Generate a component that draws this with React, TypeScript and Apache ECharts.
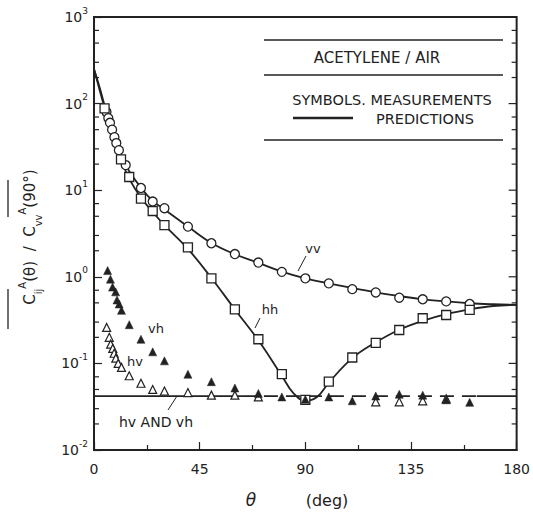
import React, { useEffect, useRef } from "react";
import * as echarts from "echarts";

// ---- axis ticks ----
const xTickValues = [0, 45, 90, 135, 180];
const yDecades = [0.01, 0.1, 1, 10, 100, 1000];
const minorMultipliers = [2, 3, 5, 7];

// ---- vv (circles) ----
const vvTheta = [5.3, 6.1, 6.8, 7.7, 8.7, 9.5, 10.6, 13.5, 20, 25, 30, 40, 50, 60, 70, 80, 90, 100, 110, 120, 130, 140, 150, 160];
const vvMeas = [80, 68, 60, 50, 41, 35, 29, 19.5, 10.6, 7.4, 6.2, 3.8, 2.44, 1.83, 1.46, 1.14, 0.96, 0.84, 0.72, 0.66, 0.574, 0.55, 0.52, 0.485];
const vvPredTheta = [0, 2.5, 5, 7.5, 10, 12.5, 15, 20, 25, 30, 40, 50, 60, 70, 80, 90, 100, 110, 120, 130, 140, 150, 160, 170, 180];
const vvPred = [250, 150, 85, 52, 31.6, 22, 16.6, 10.7, 7.5, 6.0, 3.8, 2.45, 1.82, 1.45, 1.15, 0.96, 0.84, 0.74, 0.66, 0.6, 0.55, 0.52, 0.495, 0.482, 0.475];

// ---- hh (squares) ----
const hhTheta = [4.5, 11.5, 15, 20, 25, 30, 40, 50, 60, 70, 80, 90, 100, 110, 120, 130, 140, 150, 160];
const hhMeas = [88, 22.7, 14.2, 8.0, 5.75, 3.96, 2.19, 0.96, 0.42, 0.19, 0.075, 0.038, 0.0615, 0.117, 0.173, 0.243, 0.332, 0.362, 0.414];
const hhPredTheta = [0, 2.5, 5, 7.5, 10, 12.5, 15, 20, 25, 30, 40, 50, 60, 70, 80, 85, 90, 95, 100, 110, 120, 130, 140, 150, 160, 170, 180];
const hhPred = [250, 140, 80, 48, 30, 19.5, 13.5, 8.2, 5.6, 3.95, 2.1, 0.97, 0.42, 0.185, 0.072, 0.045, 0.037, 0.041, 0.06, 0.115, 0.175, 0.245, 0.31, 0.37, 0.42, 0.46, 0.475];

// ---- vh (filled triangles) ----
const vhTheta = [5.8, 7, 7.9, 9.2, 9.8, 10.7, 11.7, 15, 20, 25, 30, 40, 50, 60, 70, 80, 90, 100, 110, 120, 130, 140, 150, 160];
const vhMeas = [1.18, 0.94, 0.76, 0.67, 0.54, 0.485, 0.41, 0.28, 0.19, 0.136, 0.107, 0.075, 0.0615, 0.052, 0.045, 0.041, 0.0385, 0.041, 0.037, 0.042, 0.044, 0.043, 0.038, 0.0355];

// ---- hv (open triangles) ----
const hvTheta = [5.4, 6.5, 7.1, 8, 8.6, 9.3, 10.3, 11.7, 15, 20, 25, 30, 40, 50, 60, 70, 120, 130, 140, 150];
const hvMeas = [0.26, 0.2, 0.167, 0.149, 0.131, 0.115, 0.1, 0.09, 0.072, 0.059, 0.05, 0.048, 0.046, 0.043, 0.043, 0.041, 0.036, 0.036, 0.037, 0.039];

// ---- hv AND vh prediction (flat) ----
const crossPredLevel = 0.042;
const crossSolid1 = [0, 63];
const crossDashed = [63, 163];
const crossSolid2 = [163, 180];

const INK = "#222";
const FONT = "DejaVu Sans";

const zip = (xs: number[], ys: number[]) => xs.map((x, i) => [x, ys[i]]);

function buildTicks() {
  const out: number[][] = [];
  yDecades.forEach((d) => out.push([0, d, 1]));
  yDecades.slice(0, -1).forEach((d) => minorMultipliers.forEach((m) => out.push([0, d * m, 0])));
  return out;
}

export default function App() {
  const ref = useRef<HTMLDivElement>(null);
  useEffect(() => {
    document.body.style.margin = "0";
    const chart = echarts.init(ref.current!, null, { renderer: "svg" });
    const lineStyle = { color: INK, width: 1.8 };
    const option: any = {
      animation: false,
      backgroundColor: "#fff",
      grid: { left: 94, right: 13, top: 17, bottom: 62, show: true, borderColor: INK, borderWidth: 2, backgroundColor: "transparent" },
      xAxis: {
        type: "value",
        min: 0,
        max: 180,
        interval: 45,
        axisLine: { show: true, lineStyle: { color: INK, width: 2 } },
        axisTick: { show: true, inside: true, length: 8, lineStyle: { color: INK, width: 1.2 } },
        minorTick: { show: true, splitNumber: 2, length: 5, lineStyle: { color: INK, width: 1.2 } },
        splitLine: { show: false },
        axisLabel: {
          margin: 12,
          fontSize: 14,
          fontFamily: FONT,
          color: INK,
          formatter: (v: number) => (xTickValues.includes(v) ? String(v) : ""),
        },
      },
      yAxis: {
        type: "log",
        logBase: 10,
        min: 0.01,
        max: 1000,
        axisLine: { show: true, lineStyle: { color: INK, width: 2 } },
        axisTick: { show: true, inside: true, length: 8, lineStyle: { color: INK, width: 1.2 } },
        splitLine: { show: false },
        axisLabel: {
          margin: 6,
          fontFamily: FONT,
          color: INK,
          formatter: (v: number) => `{b|10}{s|${Math.round(Math.log10(v))}}`,
          rich: {
            b: { fontSize: 14, lineHeight: 22, fontFamily: FONT, color: INK },
            s: { fontSize: 9, lineHeight: 10, verticalAlign: "top", fontFamily: FONT, color: INK },
          },
        },
      },
      series: [
        { type: "line", data: zip(vvPredTheta, vvPred), smooth: 0.4, showSymbol: false, lineStyle, z: 2 },
        { type: "line", data: zip(hhPredTheta, hhPred), smooth: 0.4, showSymbol: false, lineStyle, z: 2 },
        { type: "line", data: crossSolid1.map((x) => [x, crossPredLevel]), showSymbol: false, lineStyle, z: 2 },
        { type: "line", data: crossDashed.map((x) => [x, crossPredLevel]), showSymbol: false, lineStyle: { ...lineStyle, type: [14, 8] }, z: 2 },
        { type: "line", data: crossSolid2.map((x) => [x, crossPredLevel]), showSymbol: false, lineStyle, z: 2 },
        {
          type: "scatter", data: zip(vvTheta, vvMeas), symbol: "circle", symbolSize: 9, z: 4,
          itemStyle: { color: "#fff", borderColor: INK, borderWidth: 1.3, opacity: 1 },
        },
        {
          type: "scatter", data: zip(hhTheta, hhMeas), symbol: "rect", symbolSize: 9, z: 4,
          itemStyle: { color: "#fff", borderColor: INK, borderWidth: 1.3, opacity: 1 },
        },
        {
          type: "scatter", data: zip(hvTheta, hvMeas), symbol: "triangle", symbolSize: 8, z: 4,
          itemStyle: { color: "#fff", borderColor: INK, borderWidth: 1.2, opacity: 1 },
        },
        {
          type: "scatter", data: zip(vhTheta, vhMeas), symbol: "triangle", symbolSize: 8, z: 5,
          itemStyle: { color: INK, borderColor: INK, borderWidth: 0.5, opacity: 1 },
        },
        {
          type: "custom",
          silent: true,
          z: 6,
          clip: false,
          encode: { x: 0, y: 1 },
          data: buildTicks(),
          renderItem: (params: any, api: any) => {
            const v = api.value(1);
            const major = api.value(2) === 1;
            const l = api.coord([0, v]);
            const r = api.coord([180, v]);
            const children: any[] = [];
            if (!major) {
              children.push({ type: "line", shape: { x1: l[0], y1: l[1], x2: l[0] + 5, y2: l[1] }, style: { stroke: INK, lineWidth: 1.2 } });
            }
            const len = major ? 8 : 5;
            children.push({ type: "line", shape: { x1: r[0] - len, y1: r[1], x2: r[0], y2: r[1] }, style: { stroke: INK, lineWidth: 1.2 } });
            return { type: "group", children };
          },
        },
      ],
      graphic: [
        // legend box rules
        { type: "line", shape: { x1: 264, y1: 40, x2: 503, y2: 40 }, style: { stroke: INK, lineWidth: 1.3 } },
        { type: "line", shape: { x1: 264, y1: 75, x2: 503, y2: 75 }, style: { stroke: INK, lineWidth: 1.3 } },
        { type: "line", shape: { x1: 264, y1: 140, x2: 503, y2: 140 }, style: { stroke: INK, lineWidth: 1.3 } },
        { type: "text", x: 377, y: 58, style: { text: "ACETYLENE / AIR", fontSize: 15, fontFamily: FONT, fill: INK, align: "center", verticalAlign: "middle" } },
        { type: "text", x: 392, y: 100, style: { text: "SYMBOLS. MEASUREMENTS", fontSize: 14.5, fontFamily: FONT, fill: INK, align: "center", verticalAlign: "middle" } },
        { type: "line", shape: { x1: 293, y1: 118, x2: 353, y2: 118 }, style: { stroke: INK, lineWidth: 2.5 } },
        { type: "text", x: 425, y: 119, style: { text: "PREDICTIONS", fontSize: 14.5, fontFamily: FONT, fill: INK, align: "center", verticalAlign: "middle" } },
        // curve labels
        { type: "text", x: 313, y: 248, style: { text: "vv", fontSize: 13, fontFamily: FONT, fill: INK, align: "center", verticalAlign: "middle" } },
        { type: "line", shape: { x1: 306, y1: 256, x2: 298, y2: 271 }, style: { stroke: INK, lineWidth: 1 } },
        { type: "text", x: 270, y: 309, style: { text: "hh", fontSize: 13, fontFamily: FONT, fill: INK, align: "center", verticalAlign: "middle" } },
        { type: "line", shape: { x1: 260, y1: 318, x2: 255, y2: 328 }, style: { stroke: INK, lineWidth: 1 } },
        { type: "text", x: 156, y: 328, style: { text: "vh", fontSize: 13, fontFamily: FONT, fill: INK, align: "center", verticalAlign: "middle" } },
        { type: "text", x: 135, y: 361, style: { text: "hv", fontSize: 13, fontFamily: FONT, fill: INK, align: "center", verticalAlign: "middle" } },
        { type: "text", x: 156, y: 422, style: { text: "hv AND vh", fontSize: 14, fontFamily: FONT, fill: INK, align: "center", verticalAlign: "middle" } },
        { type: "line", shape: { x1: 177, y1: 396, x2: 168, y2: 410 }, style: { stroke: INK, lineWidth: 1 } },
        // x axis title
        { type: "text", x: 251, y: 500, style: { text: "θ", fontSize: 17, fontStyle: "italic", fontFamily: FONT, fill: INK, align: "center", verticalAlign: "middle" } },
        { type: "text", x: 327, y: 500, style: { text: "(deg)", fontSize: 16, fontFamily: FONT, fill: INK, align: "center", verticalAlign: "middle" } },
        // y axis title
        {
          type: "group", x: 30, y: 237, rotation: Math.PI / 2,
          children: [
            {
              type: "text", x: 0, y: 0,
              style: {
                text: "{b|C}{s|ij}{p|A}{b|(θ)  /  C}{s|vv}{p|A}{b|(90°)}",
                align: "center", verticalAlign: "middle", fill: INK,
                rich: {
                  b: { fontSize: 15, lineHeight: 26, fontFamily: FONT, fill: INK },
                  s: { fontSize: 10, lineHeight: 12, verticalAlign: "bottom", fontFamily: FONT, fill: INK },
                  p: { fontSize: 10, lineHeight: 12, verticalAlign: "top", fontFamily: FONT, fill: INK },
                },
              },
            },
            { type: "line", shape: { x1: -92, y1: -22, x2: -52, y2: -22 }, style: { stroke: INK, lineWidth: 1.3 } },
            { type: "line", shape: { x1: 20, y1: -22, x2: 57, y2: -22 }, style: { stroke: INK, lineWidth: 1.3 } },
          ],
        },
      ],
    };
    chart.setOption(option);
    return () => chart.dispose();
  }, []);
  return <div ref={ref} style={{ width: 533, height: 512 }} />;
}
